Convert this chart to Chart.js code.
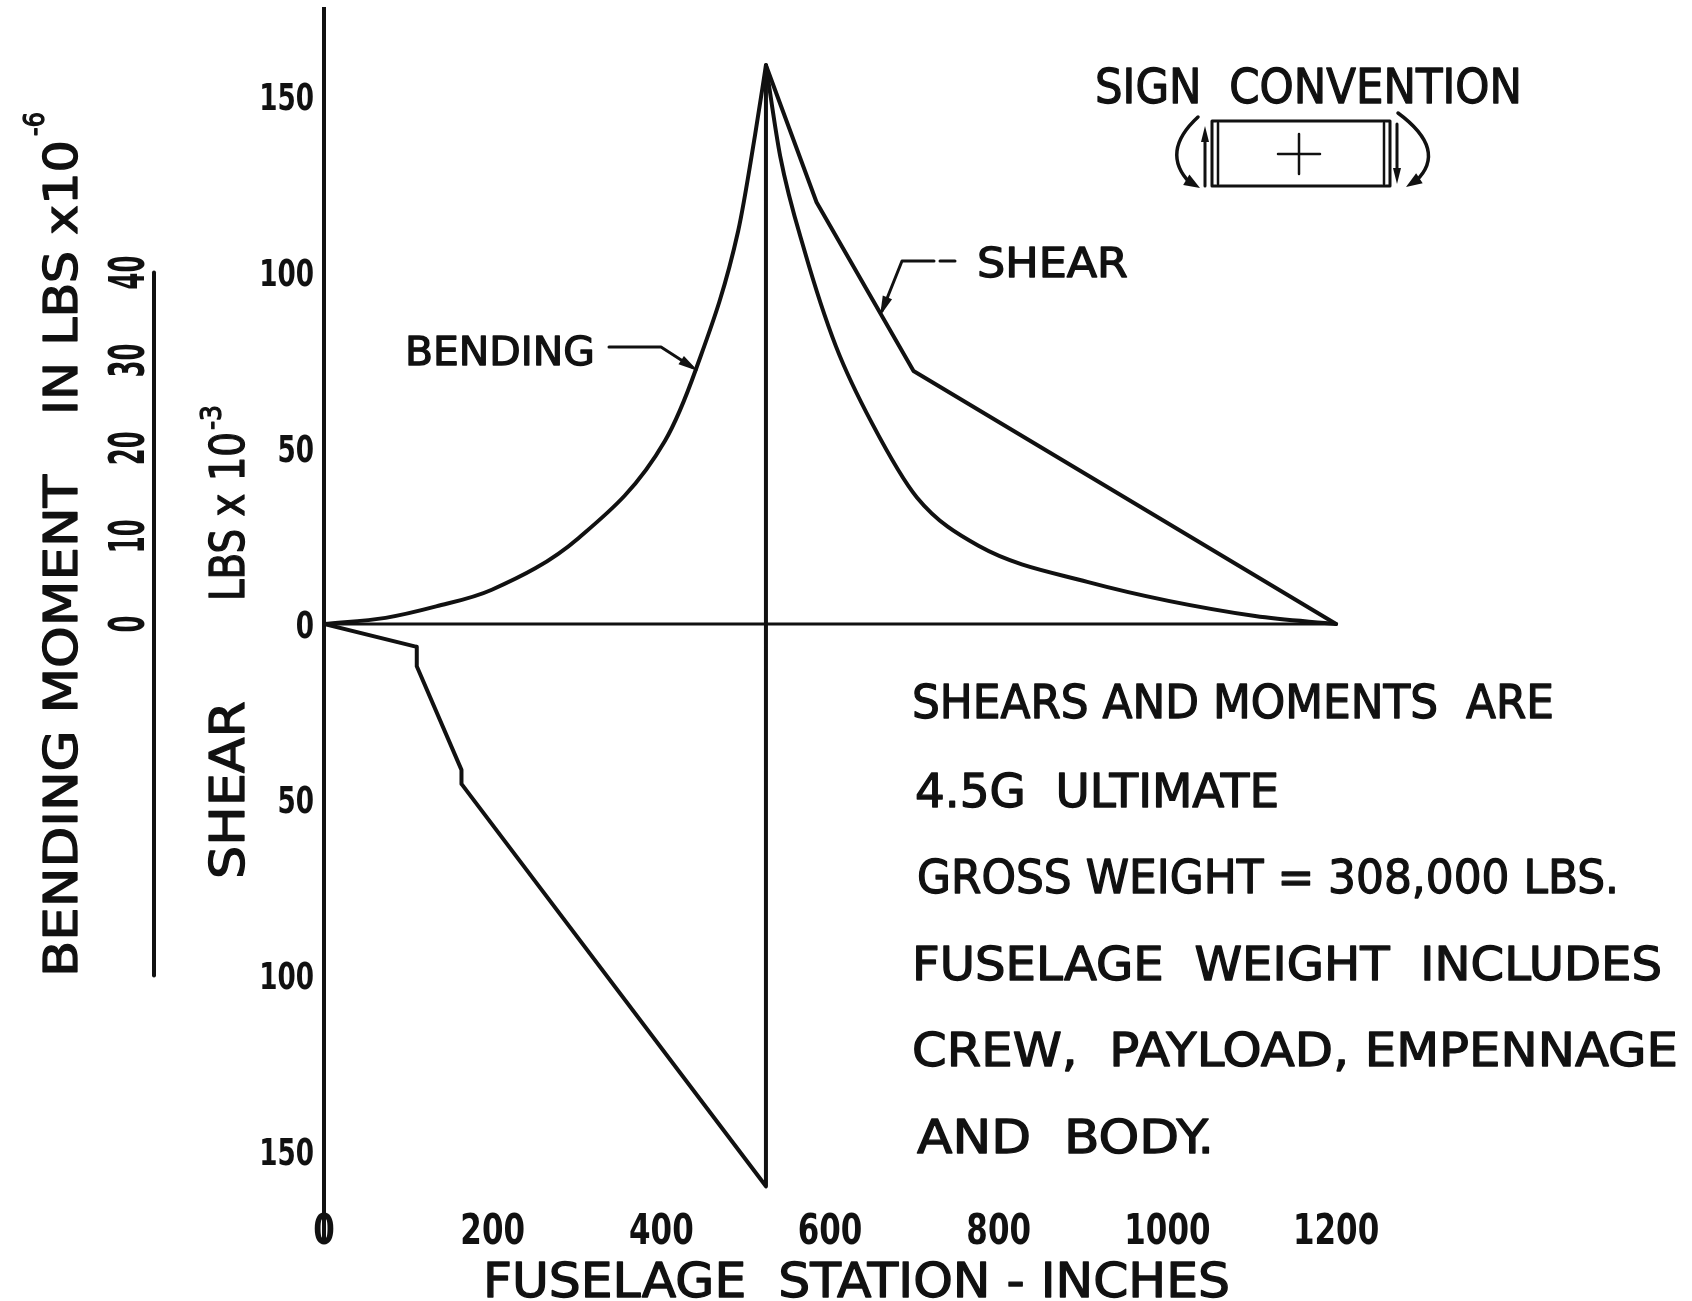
<!DOCTYPE html>
<html>
<head>
<meta charset="utf-8">
<script src="https://cdn.jsdelivr.net/npm/chart.js@4.4.1/dist/chart.umd.min.js"></script>
<style>
  html, body { margin: 0; padding: 0; background: #fff; }
  #wrap { width: 1692px; height: 1301px; }
</style>
</head>
<body>
<div id="wrap"><canvas id="chart" width="1692" height="1301"></canvas></div>
<script>
// fuselage station (inches) vs shear (lbs x 10^-3)
const shearStation = [0, 110, 110, 163, 163, 524, 524, 584, 699, 1200];
const shearValue   = [0, -6.5, -12, -41.5, -45.5, -160, 159, 120, 72, 0];

// bending moment (lbs x 10^-6), forward of the peak and aft of it
const bendFwdStation = [0, 73, 133, 199, 302, 404, 441, 491, 511, 524];
const bendFwdValue   = [0, 0.7, 2.0, 3.9, 9.8, 20.8, 29.0, 44.7, 55.6, 63.6];
const bendAftStation = [524, 541, 570, 607, 650, 703, 776, 905, 1104, 1200];
const bendAftValue   = [63.6, 53.2, 42.4, 31.6, 22.8, 14.4, 8.9, 4.8, 0.9, 0];

// zero line of the diagram
const zeroStation = [0, 1200];
const zeroValue   = [0, 0];

const stationTicks = [0, 200, 400, 600, 800, 1000, 1200];
const shearTicks   = [150, 100, 50, 0, -50, -100, -150];
const momentTicks  = [40, 30, 20, 10, 0];

const notes = [
  "SHEARS AND MOMENTS  ARE",
  "4.5G  ULTIMATE",
  "GROSS WEIGHT = 308,000 LBS.",
  "FUSELAGE  WEIGHT  INCLUDES",
  "CREW,  PAYLOAD, EMPENNAGE",
  "AND  BODY."
];

const INK = "#111";
const FONT = "'DejaVu Sans', 'Liberation Sans', sans-serif";

const pts = (xs, ys) => xs.map((x, i) => ({ x: x, y: ys[i] }));

// text with a given cap height, squeezed to a length (len) or by a factor (sx), optionally rotated
function drawText(c, text, x, y, o) {
  const size = o.cap / 0.72;
  c.save();
  c.font = (o.weight || "normal") + " " + size + "px " + FONT;
  const w = c.measureText(text).width;
  c.translate(x, y);
  c.rotate(o.angle || 0);
  c.scale(o.len ? o.len / w : (o.sx || 1), 1);
  c.textAlign = o.align || "left";
  c.textBaseline = "alphabetic";
  c.fillStyle = INK;
  c.fillText(text, 0, o.cap / 2);
  if (o.weight !== "bold") {
    // hand lettering is heavier than the book face
    c.strokeStyle = INK;
    c.lineWidth = 1.3;
    c.lineJoin = "round";
    c.strokeText(text, 0, o.cap / 2);
  }
  c.restore();
}

function arrowHead(c, fx, fy, tx, ty, len, half) {
  const a = Math.atan2(ty - fy, tx - fx);
  c.beginPath();
  c.moveTo(tx, ty);
  c.lineTo(tx - len * Math.cos(a) + half * Math.sin(a), ty - len * Math.sin(a) - half * Math.cos(a));
  c.lineTo(tx - len * Math.cos(a) - half * Math.sin(a), ty - len * Math.sin(a) + half * Math.cos(a));
  c.closePath();
  c.fill();
}

function line(c, p) {
  c.beginPath();
  c.moveTo(p[0][0], p[0][1]);
  for (let i = 1; i < p.length; i++) c.lineTo(p[i][0], p[i][1]);
  c.stroke();
}

const annotations = {
  id: "annotations",
  afterDraw(chart) {
    const c = chart.ctx;
    const sX = chart.scales.x, sY = chart.scales.y, yM = chart.scales.yM;
    const up = -Math.PI / 2;
    c.save();
    c.strokeStyle = INK;
    c.fillStyle = INK;
    c.lineCap = "round";
    c.lineJoin = "round";

    // tick labels, placed by the scales
    sX.ticks.forEach(t => drawText(c, String(t.value), sX.getPixelForValue(t.value), 1228,
      { cap: 31, sx: 0.72, align: "center", weight: "bold" }));
    sY.ticks.forEach(t => drawText(c, String(Math.abs(t.value)), 314, sY.getPixelForValue(t.value),
      { cap: 27, sx: 0.7, align: "right", weight: "bold" }));

    // bending moment scale
    c.lineWidth = 4;
    line(c, [[154, yM.getPixelForValue(40)], [154, yM.getPixelForValue(-40)]]);
    momentTicks.forEach(v => {
      const s = String(v);
      drawText(c, s, 126, yM.getPixelForValue(v), { len: 17 * s.length, cap: 36, angle: up, align: "center", weight: "bold" });
    });

    // axis titles
    drawText(c, "BENDING MOMENT", 60, 977, { len: 502, cap: 33, angle: up });
    drawText(c, "IN LBS x10", 60, 415, { len: 275, cap: 33, angle: up });
    drawText(c, "-6", 34, 136, { len: 24, cap: 20, angle: up });
    drawText(c, "SHEAR", 227, 879, { len: 178, cap: 34, angle: up });
    drawText(c, "LBS x 10", 227, 601, { len: 169, cap: 34, angle: up });
    drawText(c, "-3", 211, 430, { len: 25, cap: 20, angle: up });
    drawText(c, "FUSELAGE  STATION - INCHES", 483, 1279, { len: 747, cap: 35 });

    // curve labels with leaders
    drawText(c, "SHEAR", 977, 262, { len: 151, cap: 29 });
    drawText(c, "BENDING", 405, 351, { len: 190, cap: 28 });
    c.lineWidth = 3;
    line(c, [[940, 261], [955, 261]]);
    line(c, [[934, 261], [902, 261], [882, 311]]);
    arrowHead(c, 902, 261, 880, 316, 20, 5);
    line(c, [[609, 347], [661, 347], [692, 367]]);
    arrowHead(c, 661, 347, 698, 371, 20, 5);

    // sign convention
    drawText(c, "SIGN  CONVENTION", 1095, 86, { len: 427, cap: 34 });
    c.lineWidth = 3;
    c.strokeRect(1212, 121, 178, 65);
    c.lineWidth = 2.5;
    line(c, [[1218, 123], [1218, 184]]);
    line(c, [[1384, 123], [1384, 184]]);
    line(c, [[1278, 154], [1320, 154]]);
    line(c, [[1299, 134], [1299, 174]]);
    c.lineWidth = 3;
    line(c, [[1205, 186], [1205, 135]]);
    arrowHead(c, 1205, 150, 1205, 126, 16, 4);
    line(c, [[1397, 124], [1397, 172]]);
    arrowHead(c, 1397, 160, 1397, 184, 16, 4);
    c.lineWidth = 3.5;
    c.beginPath();
    c.moveTo(1198, 117);
    c.quadraticCurveTo(1160, 152, 1190, 183);
    c.stroke();
    arrowHead(c, 1180, 176, 1200, 188, 16, 6);
    c.beginPath();
    c.moveTo(1398, 113);
    c.quadraticCurveTo(1448, 150, 1416, 181);
    c.stroke();
    arrowHead(c, 1426, 174, 1406, 187, 16, 6);

    // notes
    const rows = [[912, 701, 642], [915, 790, 364], [917, 876, 702], [912, 963, 750], [912, 1049, 766], [917, 1136, 297]];
    notes.forEach((t, i) => drawText(c, t, rows[i][0], rows[i][1], { len: rows[i][2], cap: 33 }));
    c.restore();
  }
};

const lineStyle = { borderColor: INK, pointRadius: 0, fill: false, borderJoinStyle: "round", borderCapStyle: "round" };

new Chart(document.getElementById("chart"), {
  type: "line",
  data: {
    datasets: [
      Object.assign({ label: "Zero", data: pts(zeroStation, zeroValue), borderWidth: 3 }, lineStyle),
      Object.assign({ label: "Shear", data: pts(shearStation, shearValue), borderWidth: 4, tension: 0 }, lineStyle),
      Object.assign({ label: "Bending", yAxisID: "yM", data: pts(bendFwdStation, bendFwdValue), borderWidth: 4, cubicInterpolationMode: "monotone" }, lineStyle),
      Object.assign({ label: "Bending aft", yAxisID: "yM", data: pts(bendAftStation, bendAftValue), borderWidth: 4, cubicInterpolationMode: "monotone" }, lineStyle)
    ]
  },
  options: {
    responsive: false,
    animation: false,
    layout: { padding: { top: 9, bottom: 62, left: 0, right: 0 } },
    plugins: { legend: { display: false }, tooltip: { enabled: false } },
    scales: {
      x: {
        type: "linear", min: 0, max: 1622,
        position: { y: -165 },
        grid: { display: false }, border: { display: false },
        afterBuildTicks: s => { s.ticks = stationTicks.map(v => ({ value: v })); },
        ticks: { display: false }
      },
      y: {
        type: "linear", min: -175, max: 175, position: "left",
        grid: { display: false }, border: { display: true, width: 4, color: INK },
        afterBuildTicks: s => { s.ticks = shearTicks.map(v => ({ value: v })); },
        afterFit: s => { s.width = 324; s.paddingTop = 0; s.paddingBottom = 0; },
        ticks: { display: false }
      },
      yM: { type: "linear", min: -70, max: 70, display: false }
    }
  },
  plugins: [annotations]
});
</script>
</body>
</html>
